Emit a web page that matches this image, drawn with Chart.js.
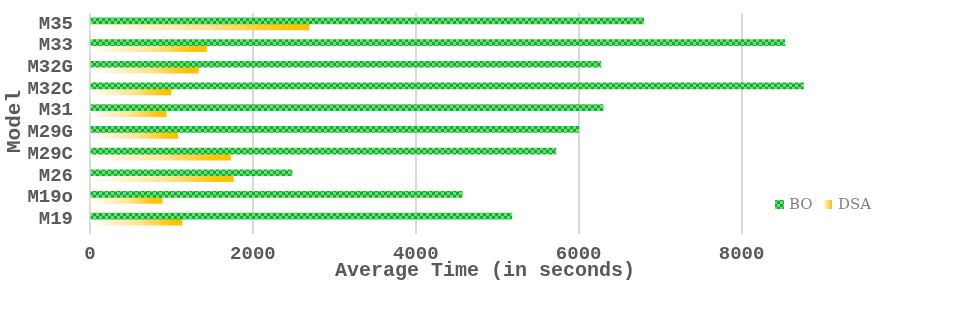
<!DOCTYPE html>
<html>
<head>
<meta charset="utf-8">
<script src="https://cdn.jsdelivr.net/npm/chart.js@4/dist/chart.umd.min.js"></script>
<style>
  body { margin: 0; background: #fff; }
  #wrap { width: 968px; height: 328px; position: relative; }
</style>
</head>
<body>
<div id="wrap"><canvas id="TimeChart"></canvas></div>
<script>
// data (seconds)
const modelLabels = ['M35', 'M33', 'M32G', 'M32C', 'M31', 'M29G', 'M29C', 'M26', 'M19o', 'M19'];
const boData = [6800, 8530, 6270, 8760, 6300, 6000, 5720, 2480, 4570, 5180];
const dsaData = [2690, 1430, 1330, 995, 935, 1080, 1725, 1760, 885, 1130];
const xTicks = [0, 2000, 4000, 6000, 8000];

const tickColor = '#595959';
const monoFont = "'Liberation Mono', 'Courier New', monospace";

// green checker pattern for BO
function makeChecker() {
    const c = document.createElement('canvas');
    c.width = 6;
    c.height = 6;
    const g = c.getContext('2d');
    g.fillStyle = '#7ed957';
    g.fillRect(0, 0, 6, 6);
    g.fillStyle = '#00b050';
    g.fillRect(0, 0, 3, 3);
    g.fillRect(3, 3, 3, 3);
    return g.createPattern(c, 'repeat');
}
const checker = makeChecker();

// white -> gold gradient along each DSA bar
function dsaFill(context) {
    const chart = context.chart;
    const xs = chart.scales.x;
    if (!xs) return '#ffc000';
    const x0 = xs.getPixelForValue(0);
    const x1 = xs.getPixelForValue(dsaData[context.dataIndex]);
    if (!isFinite(x0) || !isFinite(x1) || x1 <= x0) return '#ffc000';
    const grad = chart.ctx.createLinearGradient(x0, 0, x1, 0);
    grad.addColorStop(0, '#ffffff');
    grad.addColorStop(0.55, '#ffe38f');
    grad.addColorStop(0.9, '#ffc400');
    grad.addColorStop(1, '#ffc000');
    return grad;
}

// legend sitting inside the plot, bottom right
const insideLegend = {
    id: 'insideLegend',
    afterDraw(chart) {
        const ctx = chart.ctx;
        const area = chart.chartArea;
        const x = area.right - 105;
        const y = area.bottom - 30;
        ctx.save();
        ctx.fillStyle = checker;
        ctx.fillRect(x, y, 9, 9);
        ctx.font = "15px 'DejaVu Serif', serif";
        ctx.fillStyle = '#7f7f7f';
        ctx.textBaseline = 'middle';
        ctx.fillText('BO', x + 14, y + 5);
        const gx = x + 49;
        const g = ctx.createLinearGradient(gx, 0, gx + 8, 0);
        g.addColorStop(0, '#fff6dc');
        g.addColorStop(1, '#ffc000');
        ctx.fillStyle = g;
        ctx.fillRect(gx, y, 8, 9);
        ctx.fillStyle = '#7f7f7f';
        ctx.fillText('DSA', gx + 14, y + 5);
        ctx.restore();
    }
};

const timeCtx = document.getElementById('TimeChart').getContext('2d');
const timeChart = new Chart(timeCtx, {
    type: 'bar',
    data: {
        labels: modelLabels,
        datasets: [{
            label: 'BO',
            data: boData,
            backgroundColor: checker,
            borderWidth: 0,
            barThickness: 6
        },
        {
            label: 'DSA',
            data: dsaData,
            backgroundColor: dsaFill,
            borderWidth: 0,
            barThickness: 6
        }]
    },
    options: {
        indexAxis: 'y',
        responsive: true,
        maintainAspectRatio: false,
        animation: false,
        layout: {
            padding: { top: 13, right: 88, bottom: 45, left: 0 }
        },
        plugins: {
            legend: { display: false },
            tooltip: { enabled: false }
        },
        scales: {
            x: {
                min: 0,
                max: 9700,
                afterBuildTicks: (scale) => {
                    scale.ticks = xTicks.map(v => ({ value: v }));
                },
                afterFit: (scale) => { scale.height = 53; },
                ticks: {
                    color: tickColor,
                    padding: 9,
                    callback: (v) => String(v),
                    font: { family: monoFont, size: 19, weight: 'bold' }
                },
                grid: {
                    color: '#d9d9d9',
                    lineWidth: 2,
                    tickLength: 4
                },
                border: { display: false },
                title: {
                    display: true,
                    text: 'Average Time (in seconds)',
                    color: tickColor,
                    padding: { top: 0, bottom: 0 },
                    font: { family: monoFont, size: 20, weight: 'bold' }
                }
            },
            y: {
                afterFit: (scale) => {
                    scale.width = 90;
                    scale.paddingTop = 0;
                    scale.paddingBottom = 0;
                },
                ticks: {
                    color: tickColor,
                    padding: 17,
                    autoSkip: false,
                    font: { family: monoFont, size: 19, weight: 'bold' }
                },
                grid: { display: false, drawTicks: false },
                border: { display: false },
                title: {
                    display: true,
                    text: 'Model',
                    color: tickColor,
                    padding: { top: 2, bottom: 0 },
                    font: { family: monoFont, size: 21, weight: 'bold' }
                }
            }
        }
    },
    plugins: [insideLegend]
});
</script>
</body>
</html>
